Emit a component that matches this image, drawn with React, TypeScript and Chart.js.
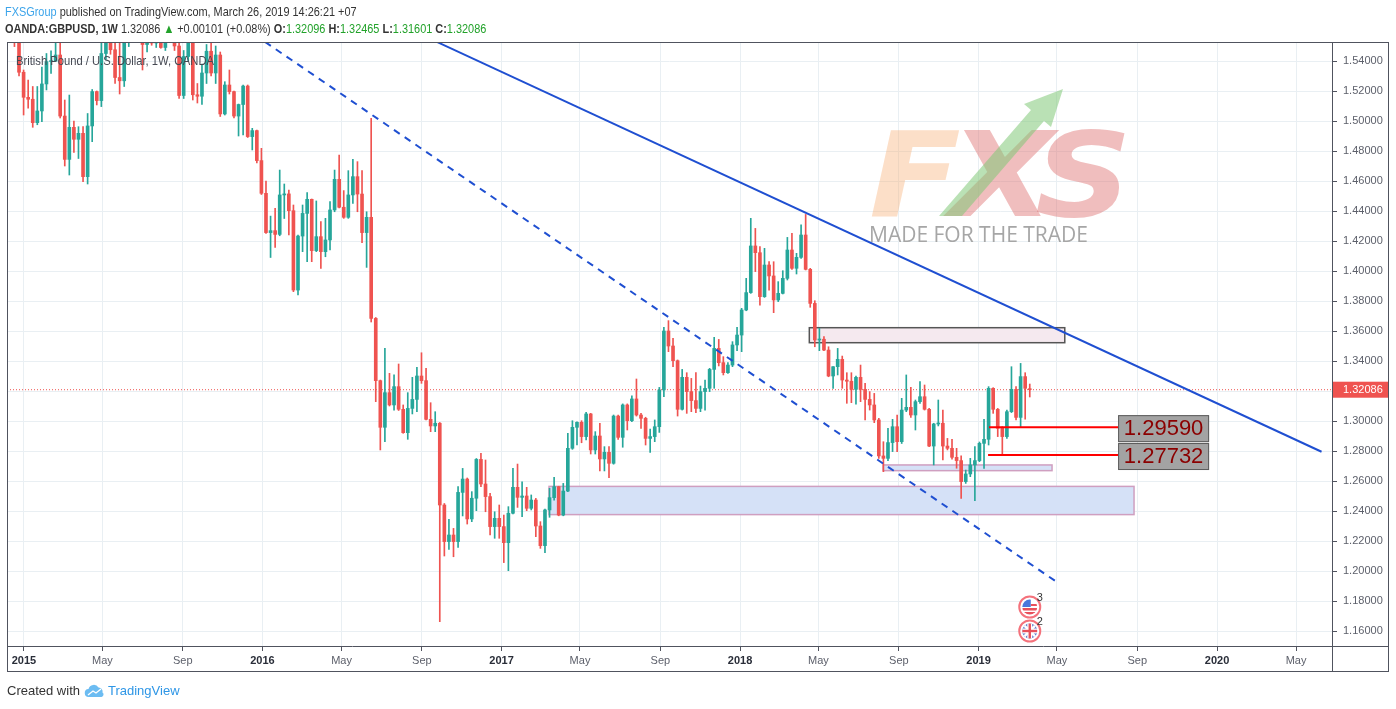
import { useEffect, useRef } from 'react'
import { Chart, registerables, type ChartConfiguration } from 'chart.js'

Chart.register(...registerables)

// Weekly OANDA:GBPUSD bars as [open, high, low, close].
// First block starts with the weeks of 22 and 29 Dec 2014.
const WEEKS_2015: number[][] = [
  [1.5620, 1.5650, 1.5496, 1.5580], [1.5580, 1.5620, 1.5300, 1.5325], [1.5325, 1.5340, 1.5040, 1.5158],
  [1.5158, 1.5273, 1.5085, 1.5145], [1.5145, 1.5230, 1.4958, 1.4989], [1.4989, 1.5230, 1.4975, 1.5067],
  [1.5067, 1.5360, 1.4996, 1.5247], [1.5247, 1.5450, 1.5207, 1.5396], [1.5396, 1.5467, 1.5318, 1.5400],
  [1.5400, 1.5520, 1.5396, 1.5440], [1.5440, 1.5530, 1.5020, 1.5033], [1.5033, 1.5140, 1.4700, 1.4744],
  [1.4744, 1.5173, 1.4640, 1.4958], [1.4958, 1.5000, 1.4790, 1.4878], [1.4878, 1.4962, 1.4750, 1.4918],
  [1.4918, 1.4962, 1.4596, 1.4629], [1.4629, 1.5050, 1.4580, 1.4967], [1.4967, 1.5210, 1.4862, 1.5196],
  [1.5196, 1.5200, 1.5107, 1.5136], [1.5136, 1.5600, 1.5096, 1.5450], [1.5450, 1.5815, 1.5410, 1.5700],
  [1.5700, 1.5800, 1.5445, 1.5475], [1.5475, 1.5540, 1.5250, 1.5290], [1.5290, 1.5540, 1.5180, 1.5268],
  [1.5268, 1.5570, 1.5230, 1.5560], [1.5560, 1.5930, 1.5496, 1.5880], [1.5880, 1.5930, 1.5680, 1.5735],
  [1.5735, 1.5780, 1.5560, 1.5600], [1.5600, 1.5630, 1.5340, 1.5510], [1.5510, 1.5675, 1.5460, 1.5645],
  [1.5645, 1.5690, 1.5505, 1.5520], [1.5520, 1.5650, 1.5490, 1.5610], [1.5610, 1.5690, 1.5485, 1.5490],
  [1.5490, 1.5660, 1.5470, 1.5640], [1.5640, 1.5820, 1.5600, 1.5700], [1.5700, 1.5750, 1.5470, 1.5500],
  [1.5500, 1.5540, 1.5150, 1.5170], [1.5170, 1.5470, 1.5150, 1.5430], [1.5430, 1.5660, 1.5400, 1.5540],
  [1.5540, 1.5560, 1.5140, 1.5175], [1.5175, 1.5250, 1.5120, 1.5165], [1.5165, 1.5380, 1.5110, 1.5320],
  [1.5320, 1.5510, 1.5250, 1.5465], [1.5465, 1.5520, 1.5300, 1.5320], [1.5320, 1.5500, 1.5250, 1.5440],
  [1.5440, 1.5460, 1.5030, 1.5047], [1.5047, 1.5262, 1.5040, 1.5240], [1.5240, 1.5340, 1.5180, 1.5196],
  [1.5196, 1.5200, 1.5020, 1.5033], [1.5033, 1.5113, 1.4900, 1.5110], [1.5110, 1.5240, 1.4907, 1.5233],
  [1.5233, 1.5240, 1.4890, 1.4896], [1.4896, 1.4951, 1.4807, 1.4936], [1.4936, 1.4940, 1.4720, 1.4736],
]

const WEEKS_2016: number[][] = [
  [1.4736, 1.4818, 1.4510, 1.4518], [1.4518, 1.4600, 1.4250, 1.4256], [1.4256, 1.4366, 1.4090, 1.4269],
  [1.4269, 1.4418, 1.4158, 1.4244], [1.4244, 1.4673, 1.4235, 1.4507], [1.4507, 1.4580, 1.4350, 1.4514],
  [1.4514, 1.4540, 1.4240, 1.4402], [1.4402, 1.4440, 1.3862, 1.3873], [1.3873, 1.4240, 1.3840, 1.4233],
  [1.4233, 1.4440, 1.4129, 1.4384], [1.4384, 1.4522, 1.4062, 1.4478], [1.4478, 1.4480, 1.4062, 1.4136],
  [1.4136, 1.4467, 1.4129, 1.4229], [1.4229, 1.4329, 1.4018, 1.4129], [1.4129, 1.4351, 1.4095, 1.4207],
  [1.4207, 1.4462, 1.4140, 1.4407], [1.4407, 1.4673, 1.4395, 1.4611], [1.4611, 1.4773, 1.4420, 1.4425],
  [1.4425, 1.4536, 1.4351, 1.4358], [1.4358, 1.4669, 1.4351, 1.4507], [1.4507, 1.4744, 1.4451, 1.4629],
  [1.4629, 1.4729, 1.4395, 1.4513], [1.4513, 1.4669, 1.4189, 1.4256], [1.4256, 1.4395, 1.4024, 1.4358],
  [1.4358, 1.5018, 1.3660, 1.3684], [1.3684, 1.3690, 1.3129, 1.3269], [1.3269, 1.3273, 1.2807, 1.2958],
  [1.2958, 1.3484, 1.2862, 1.3189], [1.3189, 1.3318, 1.3100, 1.3107], [1.3107, 1.3307, 1.3073, 1.3229],
  [1.3229, 1.3380, 1.3070, 1.3078], [1.3078, 1.3107, 1.2918, 1.2922], [1.2922, 1.3189, 1.2878, 1.3084],
  [1.3084, 1.3291, 1.3047, 1.3144], [1.3144, 1.3358, 1.3062, 1.3300], [1.3300, 1.3455, 1.3251, 1.3269],
  [1.3269, 1.3351, 1.3007, 1.3011], [1.3011, 1.3122, 1.2929, 1.2967], [1.2967, 1.3062, 1.2929, 1.2985],
  [1.2985, 1.2990, 1.1662, 1.2440], [1.2440, 1.2450, 1.2100, 1.2196], [1.2196, 1.2344, 1.2144, 1.2240],
  [1.2240, 1.2284, 1.2095, 1.2196], [1.2196, 1.2562, 1.2158, 1.2524], [1.2524, 1.2684, 1.2367, 1.2613],
  [1.2613, 1.2620, 1.2313, 1.2347], [1.2347, 1.2529, 1.2329, 1.2485], [1.2485, 1.2750, 1.2402, 1.2744],
  [1.2744, 1.2784, 1.2562, 1.2580], [1.2580, 1.2740, 1.2395, 1.2496], [1.2496, 1.2518, 1.2240, 1.2296],
  [1.2296, 1.2395, 1.2218, 1.2351],
]

const WEEKS_2017: number[][] = [
  [1.2351, 1.2440, 1.2218, 1.2296], [1.2296, 1.2373, 1.2056, 1.2189], [1.2189, 1.2429, 1.2002, 1.2385],
  [1.2385, 1.2684, 1.2380, 1.2558], [1.2558, 1.2713, 1.2424, 1.2491], [1.2491, 1.2595, 1.2362, 1.2500],
  [1.2500, 1.2558, 1.2402, 1.2418], [1.2418, 1.2507, 1.2407, 1.2473], [1.2473, 1.2484, 1.2229, 1.2300],
  [1.2300, 1.2329, 1.2151, 1.2169], [1.2169, 1.2412, 1.2122, 1.2407], [1.2407, 1.2551, 1.2358, 1.2489],
  [1.2489, 1.2624, 1.2473, 1.2562], [1.2562, 1.2565, 1.2368, 1.2373], [1.2373, 1.2584, 1.2368, 1.2533],
  [1.2533, 1.2918, 1.2529, 1.2818], [1.2818, 1.3002, 1.2811, 1.2958], [1.2958, 1.2995, 1.2840, 1.2991],
  [1.2991, 1.3002, 1.2855, 1.2896], [1.2896, 1.3058, 1.2874, 1.3047], [1.3047, 1.3051, 1.2780, 1.2807],
  [1.2807, 1.2929, 1.2780, 1.2900], [1.2900, 1.2985, 1.2667, 1.2747], [1.2747, 1.2829, 1.2667, 1.2791],
  [1.2791, 1.2829, 1.2622, 1.2718], [1.2718, 1.3040, 1.2712, 1.3033], [1.3033, 1.3040, 1.2878, 1.2891],
  [1.2891, 1.3114, 1.2825, 1.3107], [1.3107, 1.3114, 1.2940, 1.3002], [1.3002, 1.3167, 1.2996, 1.3147],
  [1.3147, 1.3280, 1.3033, 1.3040], [1.3040, 1.3051, 1.2951, 1.3018], [1.3018, 1.3025, 1.2840, 1.2884],
  [1.2884, 1.2946, 1.2791, 1.2896], [1.2896, 1.3007, 1.2862, 1.2962], [1.2962, 1.3224, 1.2924, 1.3207],
  [1.3207, 1.3624, 1.3162, 1.3600], [1.3600, 1.3669, 1.3462, 1.3500], [1.3500, 1.3551, 1.3362, 1.3402],
  [1.3402, 1.3407, 1.3033, 1.3078], [1.3078, 1.3344, 1.3073, 1.3291], [1.3291, 1.3322, 1.3051, 1.3196],
  [1.3196, 1.3284, 1.3062, 1.3136], [1.3136, 1.3322, 1.3056, 1.3084], [1.3084, 1.3233, 1.3062, 1.3196],
  [1.3196, 1.3273, 1.3073, 1.3218], [1.3218, 1.3351, 1.3196, 1.3344], [1.3344, 1.3558, 1.3218, 1.3484],
  [1.3484, 1.3544, 1.3367, 1.3389], [1.3389, 1.3429, 1.3307, 1.3322], [1.3322, 1.3389, 1.3318, 1.3373],
  [1.3373, 1.3529, 1.3362, 1.3507],
]

const WEEKS_2018: number[][] = [
  [1.3507, 1.3624, 1.3469, 1.3573], [1.3573, 1.3751, 1.3462, 1.3740], [1.3740, 1.3951, 1.3735, 1.3856],
  [1.3856, 1.4351, 1.3851, 1.4167], [1.4167, 1.4284, 1.3996, 1.4122], [1.4122, 1.4162, 1.3773, 1.3829],
  [1.3829, 1.4151, 1.3824, 1.4040], [1.4040, 1.4062, 1.3873, 1.3967], [1.3967, 1.4062, 1.3722, 1.3807],
  [1.3807, 1.3929, 1.3796, 1.3851], [1.3851, 1.4002, 1.3847, 1.3951], [1.3951, 1.4224, 1.3940, 1.4140],
  [1.4140, 1.4251, 1.4011, 1.4018], [1.4018, 1.4118, 1.3980, 1.4091], [1.4091, 1.4307, 1.4084, 1.4240],
  [1.4240, 1.4377, 1.4007, 1.4011], [1.4011, 1.4018, 1.3758, 1.3784], [1.3784, 1.3802, 1.3495, 1.3540],
  [1.3540, 1.3618, 1.3469, 1.3545], [1.3545, 1.3562, 1.3469, 1.3473], [1.3473, 1.3495, 1.3295, 1.3300],
  [1.3300, 1.3362, 1.3218, 1.3362], [1.3362, 1.3484, 1.3307, 1.3411], [1.3411, 1.3433, 1.3218, 1.3273],
  [1.3273, 1.3322, 1.3118, 1.3265], [1.3265, 1.3322, 1.3122, 1.3211], [1.3211, 1.3300, 1.3113, 1.3291],
  [1.3291, 1.3373, 1.3129, 1.3211], [1.3211, 1.3251, 1.3007, 1.3144], [1.3144, 1.3196, 1.3073, 1.3107],
  [1.3107, 1.3184, 1.2989, 1.3007], [1.3007, 1.3018, 1.2751, 1.2767], [1.2767, 1.2862, 1.2662, 1.2751],
  [1.2751, 1.2951, 1.2736, 1.2856], [1.2856, 1.3011, 1.2796, 1.2962], [1.2962, 1.3040, 1.2796, 1.2862],
  [1.2862, 1.3151, 1.2850, 1.3073], [1.3073, 1.3307, 1.3062, 1.3091], [1.3091, 1.3224, 1.3024, 1.3040],
  [1.3040, 1.3140, 1.2940, 1.3129], [1.3129, 1.3262, 1.3118, 1.3162], [1.3162, 1.3240, 1.3073, 1.3078],
  [1.3078, 1.3084, 1.2829, 1.2833], [1.2833, 1.2985, 1.2707, 1.2980], [1.2980, 1.3140, 1.2967, 1.2985],
  [1.2985, 1.3073, 1.2740, 1.2833], [1.2833, 1.2884, 1.2807, 1.2818], [1.2818, 1.2878, 1.2745, 1.2758],
  [1.2758, 1.2818, 1.2685, 1.2736], [1.2736, 1.2767, 1.2484, 1.2596], [1.2596, 1.2673, 1.2584, 1.2647],
  [1.2647, 1.2751, 1.2629, 1.2707],
]

// from the week of 31 Dec 2018 to the current bar
const WEEKS_2019: number[][] = [
  [1.2707, 1.2829, 1.2469, 1.2736], [1.2736, 1.2860, 1.2729, 1.2851], [1.2851, 1.3011, 1.2684, 1.2878],
  [1.2878, 1.3229, 1.2840, 1.3218], [1.3218, 1.3222, 1.3051, 1.3078], [1.3078, 1.3084, 1.2896, 1.2951],
  [1.2951, 1.2962, 1.27732, 1.2896], [1.2896, 1.3073, 1.2884, 1.3062], [1.3062, 1.3362, 1.3056, 1.3211],
  [1.3211, 1.3229, 1.3007, 1.3024], [1.3024, 1.3384, 1.2959, 1.3296], [1.3296, 1.3322, 1.3012, 1.3218],
  [1.32096, 1.32465, 1.31601, 1.32086],
]

// x axis is in days from 1 Jan 2015
const FIRST_BAR_DAY = -14.6
const BAR_STEP_DAYS = 7
const X_MIN = -26
const X_MAX = 2002
const X_TICK_DAYS = [0, 120, 243, 365, 486, 609, 731, 851, 974, 1096, 1216, 1339, 1461, 1581, 1704, 1826, 1947]
const X_TICK_LABELS = ['2015', 'May', 'Sep', '2016', 'May', 'Sep', '2017', 'May', 'Sep', '2018', 'May', 'Sep', '2019', 'May', 'Sep', '2020', 'May']

const Y_MIN = 1.15
const Y_MAX = 1.552667
const PRICE_TICKS = [1.16, 1.18, 1.2, 1.22, 1.24, 1.26, 1.28, 1.3, 1.32, 1.34, 1.36, 1.38, 1.4, 1.42, 1.44, 1.46, 1.48, 1.5, 1.52, 1.54]
const LAST_PRICE = 1.32086

// drawings: trend lines, zones [fromDay, toDay, topPrice, bottomPrice], levels
const TREND_SOLID = [{ x: 632, y: 1.5527 }, { x: 1986, y: 1.2795 }]
const TREND_DASHED = [{ x: 369, y: 1.5527 }, { x: 1583, y: 1.192 }]
const ZONES = [
  [1202, 1593, 1.3622, 1.3522],
  [1315, 1573.5, 1.2707, 1.2669],
  [803.6, 1699, 1.2564, 1.2376],
]
const LEVELS = [1.2959, 1.27732]
const LEVEL_FROM = [1477, 1475.6]
const LEVEL_TO = 1674.6
const EVENT_COUNTS = [3, 2]

const UP = '#26a69a'
const DOWN = '#ef5350'
const AXIS = '#50535e'
const GRID = '#e9eff3'
const FONT = '"Liberation Sans", Arial, sans-serif'
const ZONE_FILL = ['#f5e9ef', '#d5e1f7', '#d5e1f7']
const ZONE_EDGE = ['#555555', '#cf9fc0', '#cf9fc0']

const ALL_WEEKS = [...WEEKS_2015, ...WEEKS_2016, ...WEEKS_2017, ...WEEKS_2018, ...WEEKS_2019]
const barDay = (i: number) => FIRST_BAR_DAY + BAR_STEP_DAYS * i

function drawLogoLetter(ctx: CanvasRenderingContext2D, letter: string, left: number, color: string) {
  ctx.save()
  ctx.translate(left, 216)
  ctx.scale(1.14, 1)
  ctx.fillStyle = color
  ctx.fillText(letter, 0, 0)
  ctx.restore()
}

function drawWatermark(ctx: CanvasRenderingContext2D) {
  ctx.save()
  ctx.font = 'italic bold 118px "DejaVu Sans"'
  drawLogoLetter(ctx, 'F', 869, 'rgba(247, 170, 110, 0.38)')
  drawLogoLetter(ctx, 'X', 950, 'rgba(222, 110, 110, 0.45)')
  drawLogoLetter(ctx, 'S', 1035, 'rgba(222, 110, 110, 0.45)')
  ctx.fillStyle = 'rgba(130, 200, 120, 0.55)'
  ctx.beginPath()
  ctx.moveTo(939, 216)
  ctx.lineTo(1031, 110)
  ctx.lineTo(1024, 104)
  ctx.lineTo(1063, 89)
  ctx.lineTo(1051, 127)
  ctx.lineTo(1044, 121)
  ctx.lineTo(962, 216)
  ctx.closePath()
  ctx.fill()
  ctx.font = '21px "Open Sans"'
  ctx.fillStyle = '#a6a6a6'
  ctx.fillText('MADE FOR THE TRADE', 869, 242, 231)
  ctx.restore()
}

function drawEventIcon(ctx: CanvasRenderingContext2D, cx: number, cy: number, flag: 'us' | 'uk', count: number) {
  ctx.save()
  ctx.beginPath()
  ctx.arc(cx, cy, 10.5, 0, Math.PI * 2)
  ctx.fillStyle = '#fff'
  ctx.fill()
  ctx.lineWidth = 2
  ctx.strokeStyle = '#f4727c'
  ctx.stroke()
  ctx.beginPath()
  ctx.arc(cx, cy, 7.5, 0, Math.PI * 2)
  ctx.clip()
  if (flag === 'us') {
    ctx.fillStyle = '#fff'
    ctx.fillRect(cx - 8, cy - 8, 16, 16)
    ctx.fillStyle = '#e8505b'
    ctx.fillRect(cx - 8, cy + 1, 16, 2.5)
    ctx.fillRect(cx - 8, cy + 5, 16, 3)
    ctx.fillRect(cx + 1, cy - 3, 8, 2)
    ctx.fillStyle = '#4a78dc'
    ctx.fillRect(cx - 8, cy - 8, 9, 8)
  } else {
    ctx.fillStyle = '#5670c8'
    ctx.fillRect(cx - 8, cy - 8, 16, 16)
    ctx.strokeStyle = '#fff'
    ctx.lineWidth = 2.5
    ctx.beginPath()
    ctx.moveTo(cx - 8, cy - 8); ctx.lineTo(cx + 8, cy + 8)
    ctx.moveTo(cx + 8, cy - 8); ctx.lineTo(cx - 8, cy + 8)
    ctx.stroke()
    ctx.fillStyle = '#fff'
    ctx.fillRect(cx - 8, cy - 2.5, 16, 5)
    ctx.fillRect(cx - 2.5, cy - 8, 5, 16)
    ctx.fillStyle = '#e8505b'
    ctx.fillRect(cx - 8, cy - 1.2, 16, 2.4)
    ctx.fillRect(cx - 1.2, cy - 8, 2.4, 16)
  }
  ctx.restore()
  ctx.save()
  ctx.fillStyle = '#333'
  ctx.font = `11px ${FONT}`
  ctx.fillText(String(count), cx + 7, cy - 6)
  ctx.restore()
}

const backdropPlugin = {
  id: 'backdrop',
  beforeDatasetsDraw(chart: Chart) {
    const { ctx, chartArea, scales } = chart
    const x = scales.x
    const y = scales.y
    ctx.save()
    ctx.beginPath()
    ctx.rect(chartArea.left, chartArea.top, chartArea.width, chartArea.height)
    ctx.clip()
    drawWatermark(ctx)
    ZONES.forEach((z, i) => {
      const left = x.getPixelForValue(z[0])
      const right = x.getPixelForValue(z[1])
      const top = y.getPixelForValue(z[2])
      const bottom = y.getPixelForValue(z[3])
      ctx.fillStyle = ZONE_FILL[i]
      ctx.fillRect(left, top, right - left, bottom - top)
      ctx.strokeStyle = ZONE_EDGE[i]
      ctx.lineWidth = 1.5
      ctx.strokeRect(left, top, right - left, bottom - top)
    })
    ctx.restore()
  },
}

const overlayPlugin = {
  id: 'overlay',
  afterDatasetsDraw(chart: Chart) {
    const { ctx, chartArea, scales } = chart
    const x = scales.x
    const y = scales.y
    ctx.save()
    ctx.font = `13px ${FONT}`
    ctx.fillStyle = '#454852'
    ctx.fillText('British Pound / U.S. Dollar, 1W, OANDA', 16, 65, 198)

    LEVELS.forEach((level) => {
      const px = x.getPixelForValue(LEVEL_TO)
      const py = y.getPixelForValue(level)
      ctx.fillStyle = '#a3a3a3'
      ctx.fillRect(px, py - 12, 91, 27)
      ctx.strokeStyle = '#5c5c5c'
      ctx.lineWidth = 1
      ctx.strokeRect(px + 0.5, py - 11.5, 90, 26)
      ctx.fillStyle = '#8b0000'
      ctx.font = `22px ${FONT}`
      ctx.textAlign = 'center'
      ctx.textBaseline = 'middle'
      ctx.fillText(level.toFixed(5), px + 45.5, py + 2)
    })
    ctx.restore()

    const ex = x.getPixelForValue(barDay(ALL_WEEKS.length - 1))
    drawEventIcon(ctx, ex, chartArea.bottom - 39, 'us', EVENT_COUNTS[0])
    drawEventIcon(ctx, ex, chartArea.bottom - 15, 'uk', EVENT_COUNTS[1])
  },
  afterDraw(chart: Chart) {
    const { ctx, chartArea, scales } = chart
    const y = scales.y
    const x = scales.x
    const outerRight = y.right
    const outerBottom = x.bottom
    ctx.save()
    ctx.strokeStyle = AXIS
    ctx.lineWidth = 1
    ctx.strokeRect(chartArea.left + 0.5, chartArea.top + 0.5, outerRight - chartArea.left - 1, outerBottom - chartArea.top - 1)
    ctx.beginPath()
    ctx.moveTo(chartArea.right + 0.5, chartArea.top)
    ctx.lineTo(chartArea.right + 0.5, outerBottom)
    ctx.moveTo(chartArea.left, chartArea.bottom + 0.5)
    ctx.lineTo(outerRight, chartArea.bottom + 0.5)
    ctx.stroke()

    const py = y.getPixelForValue(LAST_PRICE)
    ctx.fillStyle = DOWN
    ctx.fillRect(chartArea.right + 1, py - 8, outerRight - chartArea.right - 2, 16)
    ctx.fillStyle = '#fff'
    ctx.font = `11px ${FONT}`
    ctx.textBaseline = 'middle'
    ctx.fillText(LAST_PRICE.toFixed(5), chartArea.right + 11, py + 0.5)
    ctx.restore()
  },
}

function CandleChart() {
  const chartRef = useRef<HTMLCanvasElement>(null)
  const chartInstance = useRef<Chart | null>(null)

  useEffect(() => {
    if (!chartRef.current) return
    chartInstance.current?.destroy()

    const colors = ALL_WEEKS.map(([o, , , c]) => (c >= o ? UP : DOWN))
    const bodies = ALL_WEEKS.map(([o, , , c], i) => ({ x: barDay(i), y: [o, c] }))
    const wicks = ALL_WEEKS.map(([, h, l], i) => ({ x: barDay(i), y: [l, h] }))

    const config: ChartConfiguration = {
      type: 'bar',
      data: {
        datasets: [
          { type: 'line', data: TREND_SOLID, borderColor: '#1f4fd1', borderWidth: 2, pointRadius: 0, order: 0 },
          { type: 'line', data: TREND_DASHED, borderColor: '#1f4fd1', borderWidth: 2, borderDash: [7, 6], pointRadius: 0, order: 0 },
          ...LEVELS.map((level, i) => ({
            type: 'line' as const,
            data: [{ x: LEVEL_FROM[i], y: level }, { x: LEVEL_TO, y: level }],
            borderColor: '#ff0000',
            borderWidth: 2,
            pointRadius: 0,
            order: 0,
          })),
          { type: 'bar', data: bodies as any, backgroundColor: colors, barThickness: 3, minBarLength: 1, grouped: false, order: 1 },
          { type: 'bar', data: wicks as any, backgroundColor: colors, barThickness: 1, grouped: false, order: 2 },
          {
            type: 'line',
            data: [{ x: X_MIN, y: LAST_PRICE }, { x: X_MAX, y: LAST_PRICE }],
            borderColor: DOWN,
            borderWidth: 1,
            borderDash: [1, 2],
            pointRadius: 0,
            order: 3,
          },
        ] as any,
      },
      options: {
        animation: false,
        responsive: true,
        maintainAspectRatio: false,
        events: [],
        layout: { padding: { left: 7, top: 42, right: 7, bottom: 37 } },
        plugins: { legend: { display: false }, tooltip: { enabled: false } },
        scales: {
          x: {
            type: 'linear',
            min: X_MIN,
            max: X_MAX,
            offset: false,
            grid: { color: GRID, offset: false, tickColor: AXIS, tickLength: 5 },
            border: { display: false },
            afterBuildTicks: (scale) => {
              scale.ticks = X_TICK_DAYS.map((value) => ({ value }))
            },
            afterFit: (scale) => {
              scale.height = 26
            },
            ticks: {
              autoSkip: false,
              maxRotation: 0,
              padding: 3,
              callback: (_value, index) => X_TICK_LABELS[index] ?? '',
              color: (ctx) => (/^\d{4}$/.test(X_TICK_LABELS[ctx.index] ?? '') ? '#2a2e39' : '#5d606b'),
              font: (ctx) => ({
                family: FONT,
                size: 11,
                weight: /^\d{4}$/.test(X_TICK_LABELS[ctx.index] ?? '') ? 'bold' : 'normal',
              }),
            },
          },
          y: {
            type: 'linear',
            position: 'right',
            min: Y_MIN,
            max: Y_MAX,
            grid: { color: GRID, tickColor: AXIS, tickLength: 5 },
            border: { display: false },
            afterBuildTicks: (scale) => {
              scale.ticks = PRICE_TICKS.map((value) => ({ value }))
            },
            afterFit: (scale) => {
              scale.width = 57
            },
            ticks: {
              padding: 6,
              color: '#5d606b',
              font: { family: FONT, size: 11 },
              callback: (value) => Number(value).toFixed(5),
            },
          },
        },
      },
      plugins: [backdropPlugin, overlayPlugin],
    }

    chartInstance.current = new Chart(chartRef.current, config)
    return () => {
      chartInstance.current?.destroy()
      chartInstance.current = null
    }
  }, [])

  return <canvas ref={chartRef} />
}

const headerLine = {
  position: 'absolute' as const,
  left: 5,
  fontFamily: FONT,
  fontSize: 13,
  lineHeight: '15px',
  color: '#333',
  whiteSpace: 'nowrap' as const,
  transform: 'scaleX(0.84)',
  transformOrigin: 'left top',
}
const green = { color: '#22a22a' }

export default function App() {
  return (
    <div style={{ position: 'absolute', left: 0, top: 0, width: 1396, height: 709, background: '#fff', overflow: 'hidden' }}>
      <div style={{ position: 'absolute', left: 0, top: 0, width: 1396, height: 709 }}>
        <CandleChart />
      </div>
      <div style={{ ...headerLine, top: 4 }}>
        <span style={{ color: '#3ca4ea' }}>FXSGroup</span> published on TradingView.com, March 26, 2019 14:26:21 +07
      </div>
      <div style={{ ...headerLine, top: 21 }}>
        <b>OANDA:GBPUSD, 1W</b> 1.32086 <span style={green}>▲</span> +0.00101 (+0.08%) <b>O:</b>
        <span style={green}>1.32096</span> <b>H:</b><span style={green}>1.32465</span> <b>L:</b>
        <span style={green}>1.31601</span> <b>C:</b><span style={green}>1.32086</span>
      </div>
      <div
        style={{
          position: 'absolute', left: 7, top: 683, fontFamily: FONT, fontSize: 13, lineHeight: '16px',
          color: '#333', whiteSpace: 'nowrap', display: 'flex', alignItems: 'center',
        }}
      >
        <span>Created with</span>
        <svg width="22" height="14" viewBox="0 0 22 14" style={{ margin: '0 2px 0 4px' }}>
          <path d="M5 13 A4 4 0 0 1 4.5 5 A5.5 5.5 0 0 1 14.5 3.5 A4 4 0 0 1 18.5 8.5 A2.5 2.5 0 0 1 17.5 13 Z" fill="#6cbcf2" />
          <path d="M4 11 L9 7 L12 9 L17 5" stroke="#fff" strokeWidth="1.4" fill="none" />
        </svg>
        <span style={{ color: '#2e96e6' }}>TradingView</span>
      </div>
    </div>
  )
}
